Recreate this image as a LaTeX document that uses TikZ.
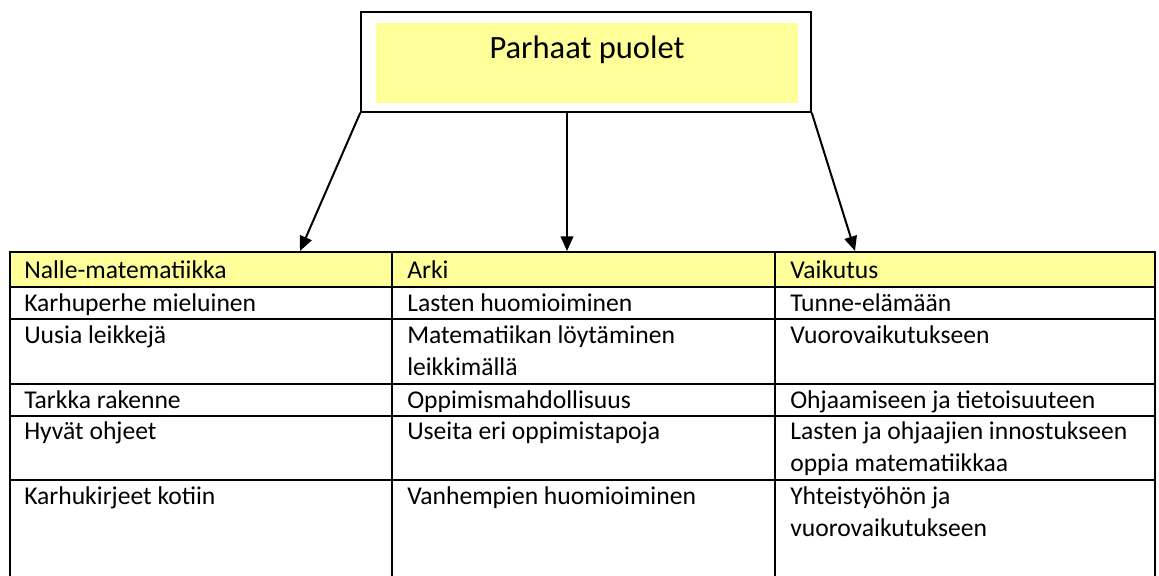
\documentclass[tikz,border=0pt]{standalone}
\usepackage{fontspec}
\setmainfont{Carlito}
\usetikzlibrary{arrows.meta}
\definecolor{paleyellow}{RGB}{255,255,153}
\begin{document}
\begin{tikzpicture}[
  x=0.75pt, y=-0.75pt,
  cell/.style={anchor=base west, inner sep=0, font=\fontsize{19.2}{24}\selectfont},
  arrow/.style={-{Triangle[length=11pt, width=9.5pt]}, line width=1.5pt},
  grid/.style={line width=1.6pt}
]
\useasboundingbox (0,0) rectangle (1159,575);
\clip (0,0) rectangle (1159,575);

% title box
\node[draw, line width=1.1pt, minimum width=337.5pt, minimum height=75pt, inner sep=0] (title) at (586,62) {};
\node[fill=paleyellow, minimum width=316.5pt, minimum height=60pt, inner sep=0] (titlefill) at (587,63) {};
\node[anchor=base, inner sep=0, font=\fontsize{24.4}{29}\selectfont] (titletext) at (587,58) {Parhaat puolet};

% arrows down to the columns
\coordinate (tip1) at (300,251);
\coordinate (tip2) at (567,251);
\coordinate (tip3) at (855,251);
\draw[arrow] (title.south west) -- (tip1);
\draw[arrow] (title.south -| tip2) -- (tip2);
\draw[arrow] (title.south east) -- (tip3);

% table
\fill[paleyellow] (10,252) rectangle (1155,287);
\draw[grid] (10,580) -- (10,252) -- (1155,252) -- (1155,580);
\foreach \y in {287,319,384,416,480}
  \draw[grid] (10,\y) -- (1155,\y);
\foreach \x in {392,775}
  \draw[grid] (\x,252) -- (\x,580);

\node[cell] (h1) at (24,278) {Nalle-matematiikka};
\node[cell] (h2) at (407,278) {Arki};
\node[cell] (h3) at (790,278) {Vaikutus};

\node[cell] (c11) at (24,311) {Karhuperhe mieluinen};
\node[cell] (c12) at (407,311) {Lasten huomioiminen};
\node[cell] (c13) at (790,311) {Tunne-elämään};

\node[cell] (c21) at (24,343) {Uusia leikkejä};
\node[cell] (c22) at (407,343) {Matematiikan löytäminen};
\node[cell] (c22b) at (407,375) {leikkimällä};
\node[cell] (c23) at (790,343) {Vuorovaikutukseen};

\node[cell] (c31) at (24,408) {Tarkka rakenne};
\node[cell] (c32) at (407,408) {Oppimismahdollisuus};
\node[cell] (c33) at (790,408) {Ohjaamiseen ja tietoisuuteen};

\node[cell] (c41) at (24,439) {Hyvät ohjeet};
\node[cell] (c42) at (407,439) {Useita eri oppimistapoja};
\node[cell] (c43) at (790,439) {Lasten ja ohjaajien innostukseen};
\node[cell] (c43b) at (790,471) {oppia matematiikkaa};

\node[cell] (c51) at (24,504) {Karhukirjeet kotiin};
\node[cell] (c52) at (407,504) {Vanhempien huomioiminen};
\node[cell] (c53) at (790,504) {Yhteistyöhön ja};
\node[cell] (c53b) at (790,536) {vuorovaikutukseen};
\end{tikzpicture}
\end{document}
